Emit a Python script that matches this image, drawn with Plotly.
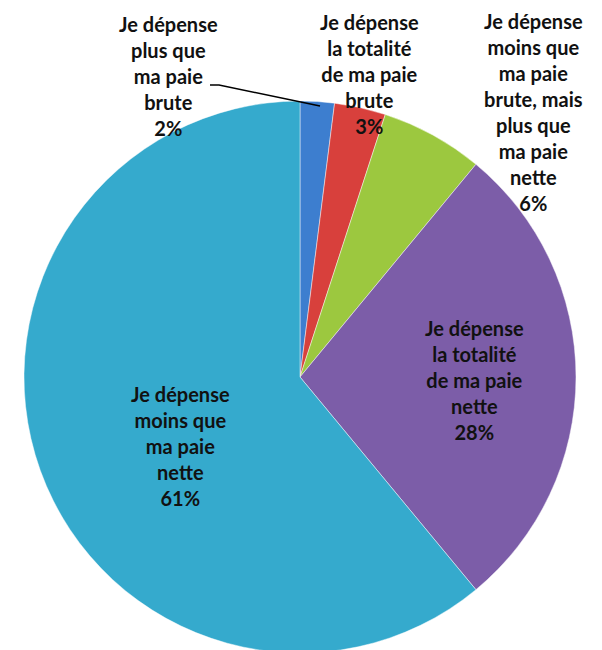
import plotly.graph_objects as go

labels = [
    "Je dépense<br>plus que<br>ma paie<br>brute",
    "Je dépense<br>la totalité<br>de ma paie<br>brute",
    "Je dépense<br>moins que<br>ma paie<br>brute, mais<br>plus que<br>ma paie<br>nette",
    "Je dépense<br>la totalité<br>de ma paie<br>nette",
    "Je dépense<br>moins que<br>ma paie<br>nette",
]
values = [2, 3, 6, 28, 61]
colors = ["#3D7ECF", "#D8403C", "#9CC83F", "#7C5DA8", "#35AACD"]

W, H = 602, 650
OFF = 8  # page body margin the figure sits in

# label block centres in page pixels
label_pos = [(169, 76), (369, 74), (533, 112), (474, 380), (180, 446)]


def px(x, y):
    return (x - OFF) / W, 1 - (y - OFF) / H


fig = go.Figure(go.Pie(
    labels=[l.replace("<br>", " ") for l in labels],
    values=values,
    marker=dict(colors=colors, line=dict(color="rgba(255,255,255,0.45)", width=1)),
    sort=False,
    direction="clockwise",
    rotation=0,
    textinfo="none",
    hoverinfo="label+percent",
    domain=dict(x=[16 / W, 568 / W], y=[5 / H, 1 - 93 / H]),
    showlegend=False,
))

font = dict(family="Lato, 'Open Sans', sans-serif", size=20, color="#111111")
for lab, val, (x0, y0) in zip(labels, values, label_pos):
    ax, ay = px(x0, y0)
    fig.add_annotation(
        text=f"<b>{lab}<br>{val}%</b>",
        x=ax, y=ay, xref="paper", yref="paper",
        xanchor="center", yanchor="middle", showarrow=False,
        align="center", font=font,
    )

# leader line for the 2% label
pts = [px(210, 85), px(219, 85), px(320, 106)]
path = "M " + " L ".join(f"{x},{y}" for x, y in pts)
fig.add_shape(type="path", path=path, xref="paper", yref="paper",
              line=dict(color="black", width=1.5))

fig.update_layout(
    width=W, height=H,
    margin=dict(l=0, r=0, t=0, b=0),
    paper_bgcolor="white",
    plot_bgcolor="white",
)

fig.write_html("out.html")
